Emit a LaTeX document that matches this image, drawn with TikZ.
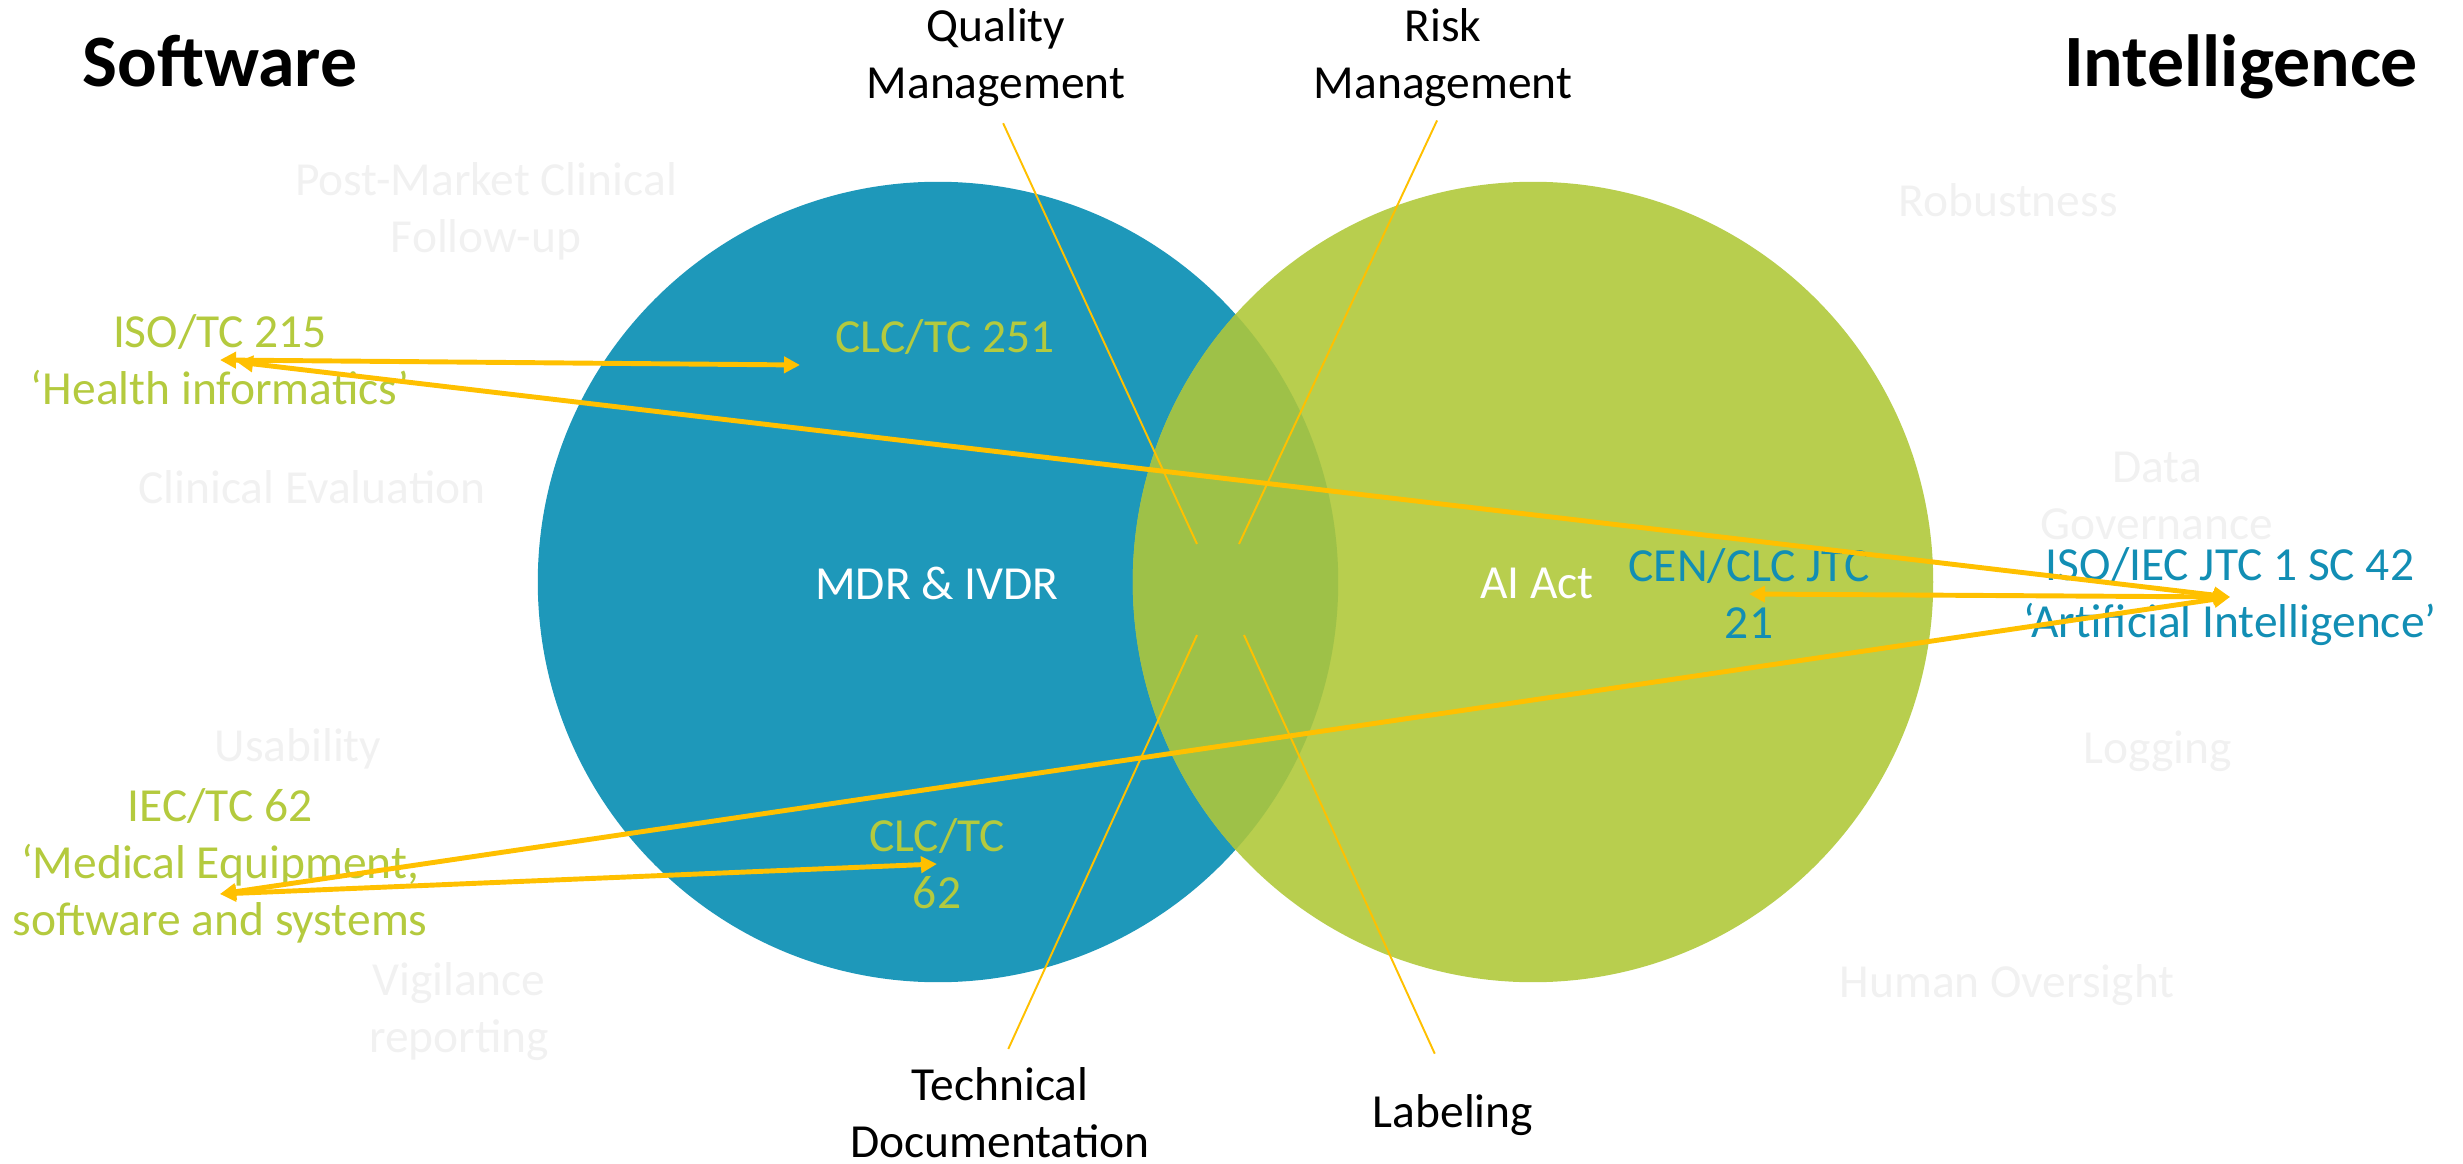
\documentclass[tikz,border=0pt]{standalone}
\usepackage{fontspec}
\setmainfont{Carlito}
\usepackage{tikz}
\usetikzlibrary{arrows.meta}

\definecolor{mdrblue}{RGB}{30,152,186}
\definecolor{actgreen}{RGB}{184,206,78}
\definecolor{overlapgreen}{RGB}{158,193,72}
\definecolor{orggreen}{RGB}{180,202,62}
\definecolor{orgblue}{RGB}{18,142,180}
\definecolor{linkyellow}{RGB}{255,192,0}
\definecolor{faintgray}{RGB}{241,241,241}

\newcommand{\labelfont}{\fontsize{13.5}{16.2}\selectfont}
\newcommand{\headfont}{\fontsize{21}{25}\selectfont\bfseries}

\tikzset{
 txt/.style={inner sep=0pt, align=center, font=\labelfont},
 heading/.style={inner sep=0pt, font=\headfont, text=black},
 topic/.style={txt, text=black},
 faint/.style={txt, text=faintgray},
 medorg/.style={txt, text=orggreen},
 aiorg/.style={txt, text=orgblue},
 law/.style={txt, text=white},
 link/.style={draw=linkyellow, line width=1.4pt,
  {Triangle[length=0.16cm,width=0.16cm]}-{Triangle[length=0.16cm,width=0.16cm]}},
 pointer/.style={draw=linkyellow, line width=0.55pt},
}

\begin{document}
\begin{tikzpicture}[x=0.01cm, y=-0.01cm]
\useasboundingbox (0,0) rectangle (2463,1164);
% circles
\fill[mdrblue] (938,582) circle (4cm);
\fill[actgreen] (1533,582) circle (4cm);
\begin{scope}
 \clip (938,582) circle (4cm);
 \fill[overlapgreen] (1533,582) circle (4cm);
\end{scope}

% nodes
\node[heading, anchor=base] (software) at (220,87) {Software};%
\node[heading, anchor=base] (intelligence) at (2241,87) {Intelligence};%
\node[law] (mdr) at (937,583) {MDR \& IVDR};%
\node[law] (aiact) at (1537,583) {AI Act};%

\node[topic] (quality) at (996,58) {Quality\\Management};%
\node[topic] (risk) at (1443,58) {Risk\\Management};%
\node[topic] (techdoc) at (1000,1113) {Technical\\Documentation};%
\node[topic] (labeling) at (1453,1115) {Labeling};%

\node[faint] (pmcf) at (486,211) {Post-Market Clinical\\Follow-up};%
\node[faint] (clineval) at (312,487) {Clinical Evaluation};%
\node[faint] (usability) at (298,749) {Usability};%
\node[faint] (vigilance) at (459,1012) {Vigilance\\reporting};%
\node[faint] (robustness) at (2008,200) {Robustness};%
\node[faint] (datagov) at (2157,496) {Data\\Governance};%
\node[faint] (logging) at (2158,751) {Logging};%
\node[faint] (oversight) at (2007,985) {Human Oversight};%

\node[medorg] (iso215) at (220,360) {ISO/TC 215\\‘Health informatics’};%
\node[medorg] (clc251) at (945,337) {CLC/TC 251};%
\node[medorg] (iec62) at (220,866) {IEC/TC 62\\‘Medical Equipment,\\software and systems};%
\node[medorg] (clc62) at (937,864) {CLC/TC\\62};%
\node[aiorg] (cenclc) at (1749,594) {CEN/CLC JTC\\21};%
\node[aiorg] (isoiec) at (2230,597) {ISO/IEC JTC 1 SC 42\\‘Artificial Intelligence’};%

\coordinate (qual-end) at (1197,544);%
\coordinate (risk-end) at (1239,544);%
\coordinate (tech-end) at (1197,635);%
\coordinate (label-end) at (1244,635);%
\coordinate (clc251-in) at (800,365);%
\coordinate (iso215-in) at (237,362);%
\coordinate (iec62-in) at (220,894);%

% edges
\draw[pointer, shorten <=0.17cm] (quality.south) -- (qual-end);
\draw[pointer, shorten <=0.14cm] (risk.south) -- (risk-end);
\draw[pointer, shorten >=0.2cm] (tech-end) -- (techdoc.north);
\draw[pointer, shorten >=0.44cm] (label-end) -- (labeling.north);

\draw[link] (iso215.center) -- (clc251-in);
\draw[link] (iso215-in) -- (isoiec.center);
\draw[link] (cenclc.center) -- (isoiec.center);
\draw[link] (iec62-in) -- (isoiec.center);
\draw[link] (iec62-in) -- (clc62.center);
\end{tikzpicture}
\end{document}
